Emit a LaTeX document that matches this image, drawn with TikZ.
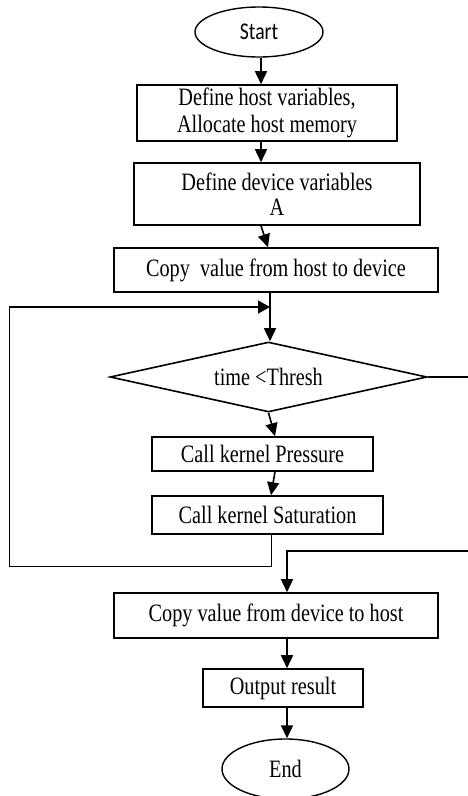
\documentclass[tikz,border=0pt]{standalone}
\usepackage{fontspec}
\setmainfont{Liberation Serif}[FakeStretch=0.81]
\newfontfamily\labelsans{Carlito}[FakeStretch=0.82]
\usetikzlibrary{shapes.geometric,arrows.meta}

\tikzset{
  txt/.style={font=\fontsize{25}{27}\selectfont},
  procbox/.style={draw, line width=1.6pt, rectangle, inner sep=0pt, align=center, txt},
  terminal/.style={draw, line width=1.4pt, ellipse, inner sep=0pt, txt},
  decision/.style={draw, line width=1.6pt, diamond, shape aspect=4.5, inner sep=0pt, txt},
  flow/.style={line width=1.6pt, -{Triangle[length=13pt,width=12pt]}},
  wire/.style={line width=1.6pt},
  thinwire/.style={line width=0.9pt},
}

\begin{document}
\begin{tikzpicture}[x=1pt,y=-1pt]
  \useasboundingbox[fill=white] (0,0) rectangle (467,796);

  % terminals
  \node[terminal, minimum width=128pt, minimum height=50pt, font=\labelsans\fontsize{24}{26}\selectfont]
    (start) at (259,32) {Start};
  \node[terminal, minimum width=127pt, minimum height=60pt] (end) at (285.5,769) {End};

  % process steps
  \node[procbox, minimum width=260pt, minimum height=56pt, font=\fontsize{25}{27}\selectfont]
    (hostvars) at (267,113) {Define host variables,\\Allocate host memory};
  \node[procbox, minimum width=286pt, minimum height=62pt, font=\fontsize{25}{25}\selectfont]
    (devvars) at (277,194) {Define device variables\\A};
  \node[procbox, minimum width=324pt, minimum height=44pt] (htod) at (276,270)
    {Copy\ \ value from host to device};
  \node[decision, minimum width=317pt, minimum height=70pt] (test) at (268.5,377) {time <Thresh};
  \node[procbox, minimum width=221pt, minimum height=34pt] (pressure) at (262.5,454)
    {Call kernel Pressure};
  \node[procbox, minimum width=231pt, minimum height=38pt] (saturation) at (267.5,515)
    {Call kernel Saturation};
  \node[procbox, minimum width=324pt, minimum height=45pt] (dtoh) at (276,615.5)
    {Copy value from device to host};
  \node[procbox, minimum width=160pt, minimum height=38pt] (output) at (283,688)
    {Output result};

  % main flow
  \draw[flow] ([xshift=2pt]start.south) -- ([xshift=-6pt]hostvars.north);
  \draw[flow] ([xshift=-6pt]hostvars.south) -- ([xshift=-16pt]devvars.north);
  \draw[flow] ([xshift=-16pt]devvars.south) -- ([xshift=-8pt]htod.north);
  \coordinate (merge) at (270,307);
  \draw[flow] ([xshift=-6pt]htod.south) -- ([xshift=1.5pt]test.north);
  \draw[flow] (test.south) -- ([xshift=12.5pt]pressure.north);
  \draw[flow] ([xshift=12.5pt]pressure.south) -- ([xshift=3.5pt]saturation.north);

  % loop back to the test
  \coordinate (loopbl) at (9,566);
  \coordinate (looptl) at (9,307);
  \draw[thinwire] ([xshift=3.5pt]saturation.south) |- (loopbl) -- (looptl);
  \draw[wire, line width=1.4pt, -{Triangle[length=12pt,width=13pt]}] (looptl) -- (merge);

  % exit of the loop
  \coordinate (exitr) at (480,377);
  \coordinate (backr) at (480,551);
  \draw[wire] (test.east) -- (exitr);
  \draw[flow] (backr) -| ([xshift=11pt]dtoh.north);

  % tail of the flow
  \draw[flow] ([xshift=11pt]dtoh.south) -- ([xshift=4pt]output.north);
  \draw[flow] ([xshift=4pt]output.south) -- ([xshift=1.5pt]end.north);
\end{tikzpicture}
\end{document}
